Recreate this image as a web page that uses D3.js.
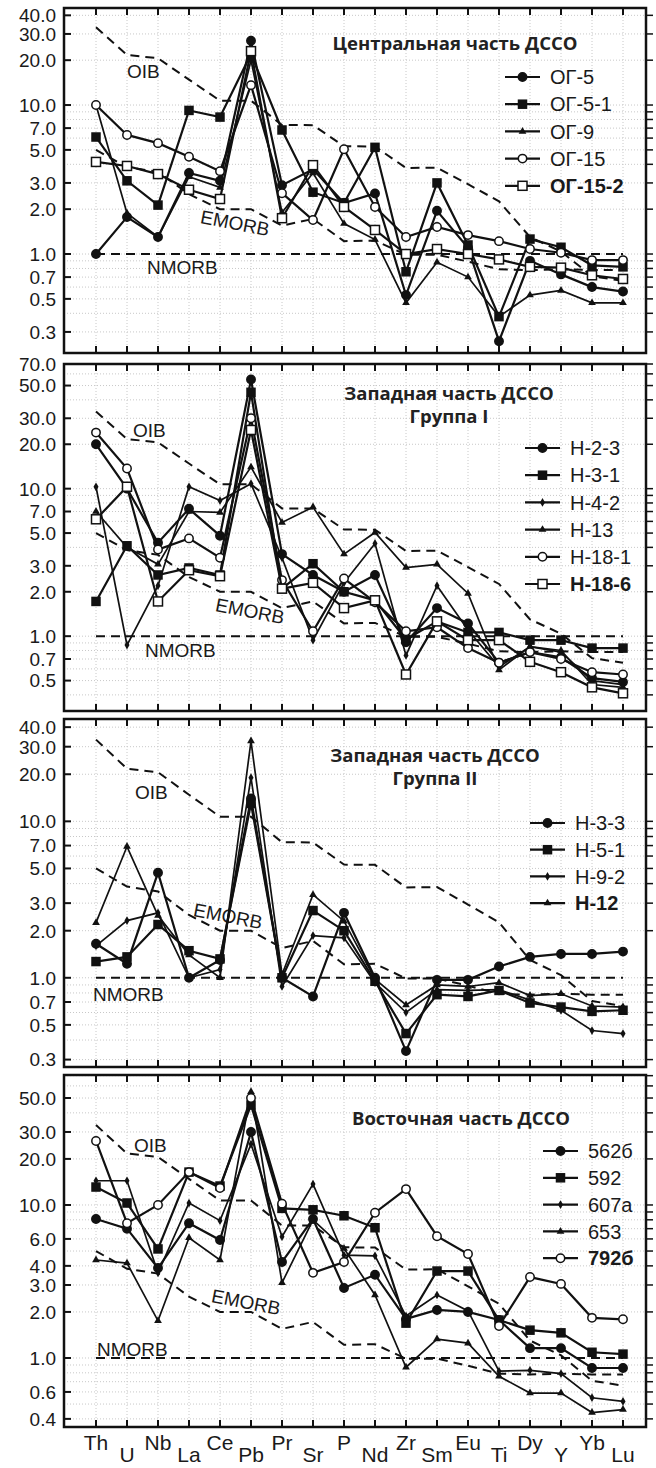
<!DOCTYPE html>
<html>
<head>
<meta charset="utf-8">
<script src="https://cdn.jsdelivr.net/npm/d3@7"></script>
<style>
  body { margin: 0; background: #fff; }
  text { font-family: "Liberation Sans", Arial, sans-serif; fill: #1a1a1a; }
  .ttl { font-family: "Open Sans", sans-serif; font-weight: bold; fill: #222; }
</style>
</head>
<body>
<svg id="chart" width="656" height="1468"></svg>
<script>

// Data: NMORB-normalised spidergrams

var elements = ["Th","U","Nb","La","Ce","Pb","Pr","Sr","P","Nd","Zr","Sm","Eu","Ti","Dy","Y","Yb","Lu"];

var oib   = [33.3, 21.7, 20.6, 14.8, 10.7, 10.7, 7.35, 7.33, 5.29, 5.27, 3.78, 3.80, 2.94, 2.26, 1.30, 1.04, 0.71, 0.66];
var emorb = [5.0, 3.83, 3.56, 2.52, 2.0, 2.0, 1.55, 1.72, 1.22, 1.23, 0.99, 0.99, 0.89, 0.79, 0.78, 0.79, 0.78, 0.78];
var nmorb = [1, 1, 1, 1, 1, 1, 1, 1, 1, 1, 1, 1, 1, 1, 1, 1, 1, 1];

// Central part
var samples1 = ["ОГ-5", "ОГ-5-1", "ОГ-9", "ОГ-15", "ОГ-15-2"];
var og5    = [1.0, 1.77, 1.3, 3.5, 3.1, 27, 2.9, 3.7, 2.2, 2.55, 0.53, 1.95, 1.1, 0.26, 0.90, 0.73, 0.60, 0.56];
var og5_1  = [6.1, 3.1, 2.13, 9.2, 8.3, 22, 6.8, 2.6, 2.2, 5.2, 0.76, 3.0, 1.15, 0.38, 1.26, 1.11, 0.84, 0.82];
var og9    = [10, 1.88, 1.3, 3.3, 2.8, 20, 1.9, 3.5, 1.6, 1.25, 0.47, 0.88, 0.70, 0.38, 0.53, 0.57, 0.47, 0.47];
var og15   = [10, 6.3, 5.55, 4.5, 3.6, 13.6, 2.56, 1.69, 5.05, 2.07, 1.30, 1.52, 1.34, 1.22, 1.08, 1.02, 0.91, 0.91];
var og15_2 = [4.15, 3.9, 3.44, 2.7, 2.34, 23, 1.74, 3.95, 2.07, 1.45, 1.0, 1.08, 1.0, 0.92, 0.82, 0.81, 0.72, 0.68];

// Western part, group I
var samples2 = ["Н-2-3", "Н-3-1", "Н-4-2", "Н-13", "Н-18-1", "Н-18-6"];
var n2_3  = [20, 10, 4.3, 7.3, 4.8, 55, 3.6, 2.6, 2.0, 2.6, 0.91, 1.55, 1.22, 0.66, 0.78, 0.72, 0.52, 0.49];
var n3_1  = [1.72, 4.1, 2.6, 2.9, 2.6, 45, 2.1, 3.1, 2.0, 1.75, 0.95, 1.26, 1.06, 1.06, 0.94, 0.94, 0.83, 0.83];
var n4_2  = [10.3, 0.87, 2.2, 10.3, 8.3, 10.8, 3.4, 0.94, 2.3, 4.25, 0.74, 2.2, 1.1, 0.62, 0.85, 0.78, 0.50, 0.47];
var n13   = [7.0, 4.0, 3.07, 7.0, 6.9, 14, 5.9, 7.5, 3.6, 5.05, 2.92, 3.07, 1.95, 0.59, 0.85, 0.80, 0.47, 0.45];
var n18_1 = [24, 13.7, 3.87, 4.6, 3.4, 30, 2.4, 1.08, 2.46, 1.7, 1.08, 1.15, 0.83, 0.66, 0.78, 0.70, 0.57, 0.55];
var n18_6 = [6.2, 10.3, 1.72, 2.8, 2.55, 25, 2.1, 2.3, 1.55, 1.75, 0.55, 1.26, 0.94, 0.94, 0.67, 0.57, 0.45, 0.41];

// Western part, group II
var samples3 = ["Н-3-3", "Н-5-1", "Н-9-2", "Н-12"];
var n3_3 = [1.65, 1.23, 4.7, 1.0, 1.3, 14, 1.0, 0.76, 2.6, 1.0, 0.34, 0.97, 0.97, 1.18, 1.36, 1.42, 1.42, 1.47];
var n5_1 = [1.27, 1.36, 2.19, 1.49, 1.32, 13, 1.0, 2.69, 2.0, 0.95, 0.44, 0.78, 0.76, 0.83, 0.69, 0.65, 0.61, 0.62];
var n9_2 = [1.6, 2.32, 2.6, 1.0, 1.13, 19, 0.88, 1.86, 1.8, 0.93, 0.60, 0.84, 0.83, 0.84, 0.72, 0.62, 0.46, 0.44];
var n12  = [2.25, 6.9, 2.5, 1.4, 1.0, 32.6, 1.05, 3.4, 2.3, 0.98, 0.67, 0.90, 0.88, 0.93, 0.77, 0.79, 0.66, 0.65];

// Eastern part
var samples4 = ["562б", "592", "607а", "653", "792б"];
var s562 = [8.1, 7.0, 3.87, 7.6, 5.9, 30, 4.24, 8.1, 2.87, 3.5, 1.8, 2.06, 2.0, 1.77, 1.16, 1.16, 0.86, 0.86];
var s592 = [13.1, 10.3, 5.16, 16.4, 13.3, 45, 9.5, 9.3, 8.5, 7.1, 1.69, 3.7, 3.7, 1.77, 1.52, 1.46, 1.09, 1.06];
var s607 = [14.4, 14.4, 3.6, 10.3, 7.9, 25, 6.2, 13.7, 4.7, 4.65, 1.88, 2.58, 2.03, 0.82, 0.83, 0.79, 0.55, 0.52];
var s653 = [4.37, 4.17, 1.75, 6.1, 4.37, 55, 3.1, 8.0, 5.2, 2.58, 0.87, 1.33, 1.25, 0.76, 0.59, 0.59, 0.44, 0.46];
var s792 = [26.2, 7.6, 10, 16.4, 12.9, 50, 10.2, 3.6, 4.24, 8.9, 12.7, 6.25, 4.78, 1.62, 3.38, 3.05, 1.83, 1.79];

// Axis tick labels
var ticks1 = [40, 30, 20, 10, 7, 5, 3, 2, 1, 0.7, 0.5, 0.3];
var ticks2 = [70, 50, 30, 20, 10, 7, 5, 3, 2, 1, 0.7, 0.5];
var ticks3 = [40, 30, 20, 10, 7, 5, 3, 2, 1, 0.7, 0.5, 0.3];
var ticks4 = [50, 30, 20, 10, 6, 4, 3, 2, 1, 0.6, 0.4];

// Layout

var left = 64, right = 646;

var panels = [
  { top: 8, bottom: 353, domain: [0.2166, 44.8], ticks: ticks1,
    names: samples1, series: [og5, og5_1, og9, og15, og15_2],
    marks: ["dot", "square", "triangle", "ocircle", "osquare"],
    title: ["Центральная часть ДССО"], titleX: 455, titleY: 50,
    legX: 505, legY: 77, legStep: 27.2,
    oibAt: [127, 78], emorbAt: [235, 223], nmorbAt: [147, 274] },
  { top: 364, bottom: 711, domain: [0.311, 70], ticks: ticks2,
    names: samples2, series: [n2_3, n3_1, n4_2, n13, n18_1, n18_6],
    marks: ["dot", "square", "diamond", "triangle", "ocircle", "osquare"],
    title: ["Западная часть ДССО", "Группа I"], titleX: 449, titleY: 400,
    legX: 525, legY: 448, legStep: 27.2,
    oibAt: [133, 437], emorbAt: [250, 611], nmorbAt: [145, 657] },
  { top: 719, bottom: 1067, domain: [0.269, 45.1], ticks: ticks3,
    names: samples3, series: [n3_3, n5_1, n9_2, n12],
    marks: ["dot", "square", "diamond", "triangle"],
    title: ["Западная часть ДССО", "Группа II"], titleX: 435, titleY: 762,
    legX: 530, legY: 823, legStep: 26.7,
    oibAt: [135, 799], emorbAt: [228, 916], nmorbAt: [93, 1001] },
  { top: 1075, bottom: 1427, domain: [0.354, 70.7], ticks: ticks4,
    names: samples4, series: [s562, s592, s607, s653, s792],
    marks: ["dot", "square", "diamond", "triangle", "ocircle"],
    title: ["Восточная часть ДССО"], titleX: 461, titleY: 1125,
    legX: 543, legY: 1151, legStep: 26.8,
    oibAt: [134, 1152], emorbAt: [246, 1302], nmorbAt: [97, 1356] }
];

var svg = d3.select("#chart");

var x = d3.scalePoint()
    .domain(elements)
    .range([96, 623]);

function marker(g, type, cx, cy) {
  if (type === "dot" || type === "ocircle") {
    g.append("circle")
      .attr("cx", cx).attr("cy", cy).attr("r", 4.2)
      .attr("fill", type === "dot" ? "#111" : "#fff")
      .attr("stroke", "#111").attr("stroke-width", 1.5);
  } else if (type === "square" || type === "osquare") {
    var s = type === "square" ? 8 : 9;
    g.append("rect")
      .attr("x", cx - s / 2).attr("y", cy - s / 2)
      .attr("width", s).attr("height", s)
      .attr("fill", type === "square" ? "#111" : "#fff")
      .attr("stroke", "#111").attr("stroke-width", 1.5);
  } else {
    var sym = type === "triangle" ? d3.symbolTriangle : d3.symbolDiamond;
    g.append("path")
      .attr("d", d3.symbol().type(sym).size(type === "triangle" ? 26 : 22)())
      .attr("transform", "translate(" + cx + "," + cy + ")")
      .attr("fill", "#111");
  }
}

panels.forEach(function (p, pi) {

  var y = d3.scaleLog()
      .domain(p.domain)
      .range([p.bottom, p.top]);

  var g = svg.append("g");

  // grid

  g.selectAll(".hgrid")
    .data(y.ticks())
    .enter().append("line")
    .attr("x1", left).attr("x2", right)
    .attr("y1", function (d) { return y(d); })
    .attr("y2", function (d) { return y(d); })
    .attr("stroke", "#c8c8c8").attr("stroke-width", 1)
    .attr("stroke-dasharray", "1,2");

  g.selectAll(".vgrid")
    .data(elements)
    .enter().append("line")
    .attr("x1", function (d) { return x(d); })
    .attr("x2", function (d) { return x(d); })
    .attr("y1", p.top).attr("y2", p.bottom)
    .attr("stroke", "#c8c8c8").attr("stroke-width", 1)
    .attr("stroke-dasharray", "1,2");

  // reference lines

  var line = d3.line()
      .x(function (d, i) { return x(elements[i]); })
      .y(function (d) { return y(d); });

  [oib, emorb, nmorb].forEach(function (ref) {
    g.append("path")
      .attr("d", line(ref))
      .attr("fill", "none")
      .attr("stroke", "#111")
      .attr("stroke-width", 2)
      .attr("stroke-dasharray", "9,6");
  });

  g.append("text")
    .attr("x", p.oibAt[0]).attr("y", p.oibAt[1])
    .style("font-size", "19px")
    .text("OIB");

  g.append("text")
    .attr("transform", "translate(" + p.emorbAt[0] + "," + p.emorbAt[1] + ") rotate(11)")
    .attr("text-anchor", "middle")
    .attr("dy", "0.35em")
    .style("font-size", "19px")
    .text("EMORB");

  g.append("text")
    .attr("x", p.nmorbAt[0]).attr("y", p.nmorbAt[1])
    .style("font-size", "19px")
    .text("NMORB");

  // sample lines and markers

  p.series.forEach(function (vals, si) {
    var thin = p.marks[si] === "triangle" || p.marks[si] === "diamond";
    g.append("path")
      .attr("d", line(vals))
      .attr("fill", "none")
      .attr("stroke", "#111")
      .attr("stroke-width", thin ? 1.7 : 2.2);
    vals.forEach(function (v, i) {
      marker(g, p.marks[si], x(elements[i]), y(v));
    });
  });

  // frame and ticks

  g.append("rect")
    .attr("x", left).attr("y", p.top)
    .attr("width", right - left).attr("height", p.bottom - p.top)
    .attr("fill", "none").attr("stroke", "#111").attr("stroke-width", 2.5);

  g.selectAll(".ltick")
    .data(p.ticks)
    .enter().append("line")
    .attr("x1", left).attr("x2", left + 7)
    .attr("y1", function (d) { return y(d); })
    .attr("y2", function (d) { return y(d); })
    .attr("stroke", "#111").attr("stroke-width", 2);

  g.selectAll(".rtick")
    .data(y.ticks())
    .enter().append("line")
    .attr("x1", right).attr("x2", right + 7)
    .attr("y1", function (d) { return y(d); })
    .attr("y2", function (d) { return y(d); })
    .attr("stroke", "#111").attr("stroke-width", 1.5);

  g.selectAll(".ttick")
    .data(elements)
    .enter().append("line")
    .attr("x1", function (d) { return x(d); })
    .attr("x2", function (d) { return x(d); })
    .attr("y1", p.top).attr("y2", p.top + 7)
    .attr("stroke", "#111").attr("stroke-width", 2);

  g.selectAll(".btick")
    .data(elements)
    .enter().append("line")
    .attr("x1", function (d) { return x(d); })
    .attr("x2", function (d) { return x(d); })
    .attr("y1", p.bottom).attr("y2", p.bottom - 7)
    .attr("stroke", "#111").attr("stroke-width", 2);

  g.selectAll(".ylab")
    .data(p.ticks)
    .enter().append("text")
    .attr("x", 56)
    .attr("y", function (d) { return y(d); })
    .attr("dy", "0.36em")
    .attr("text-anchor", "end")
    .style("font-size", "19px")
    .text(d3.format(".1f"));

  // title

  p.title.forEach(function (t, ti) {
    g.append("text")
      .attr("class", "ttl")
      .attr("x", p.titleX)
      .attr("y", p.titleY + ti * 23)
      .attr("text-anchor", "middle")
      .style("font-size", "18.5px")
      .text(t);
  });

  // legend

  p.names.forEach(function (name, si) {
    var ly = p.legY + si * p.legStep;
    g.append("line")
      .attr("x1", p.legX).attr("x2", p.legX + 35)
      .attr("y1", ly).attr("y2", ly)
      .attr("stroke", "#111").attr("stroke-width", 2.2);
    marker(g, p.marks[si], p.legX + 17.5, ly);
    g.append("text")
      .attr("x", p.legX + 45).attr("y", ly)
      .attr("dy", "0.36em")
      .style("font-size", "20px")
      .style("font-weight", si === p.names.length - 1 ? "bold" : "normal")
      .text(name);
  });
});

// element labels under the last panel

svg.selectAll(".xlab")
  .data(elements)
  .enter().append("text")
  .attr("x", function (d) { return x(d); })
  .attr("y", function (d, i) { return i % 2 === 0 ? 1450 : 1462; })
  .attr("text-anchor", "middle")
  .style("font-size", "21px")
  .text(function (d) { return d; });

</script>
</body>
</html>
